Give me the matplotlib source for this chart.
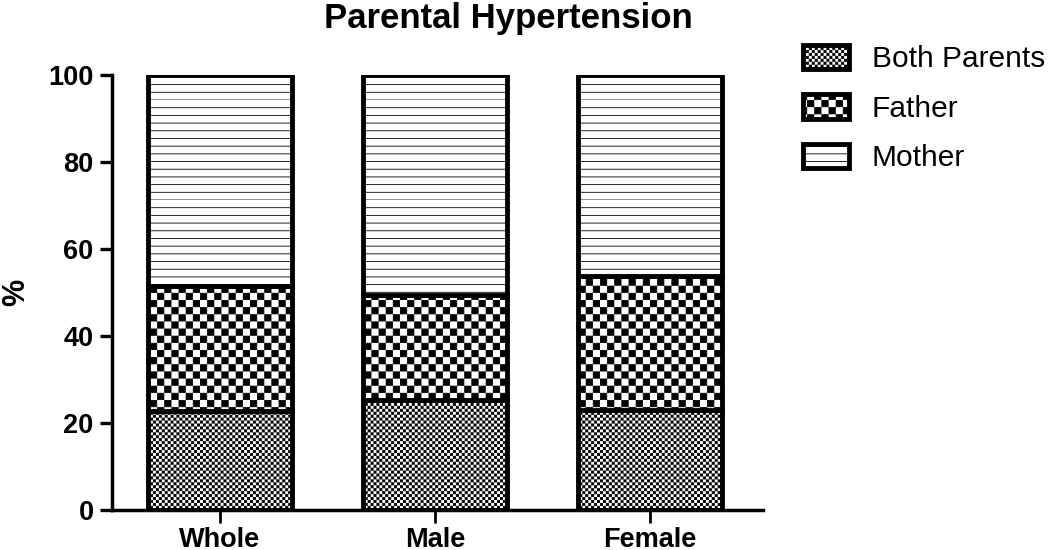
# -*- coding: utf-8 -*-
"""
Output: out.png
Parental hypertension, stacked percentage bars
"""

### 0 ### Imports

import warnings
import numpy as np
import matplotlib
matplotlib.use("Agg")
import matplotlib.pyplot as plt
import matplotlib.hatch as mhatch
from matplotlib.path import Path

warnings.filterwarnings("ignore")

# fonts and general look
plt.rcParams['font.family'] = ['Liberation Sans', 'DejaVu Sans']
plt.rcParams['hatch.linewidth'] = 0.6
plt.rcParams['hatch.color'] = 'black'

# data
groups = ["Whole", "Male", "Female"]
series = ["Both Parents", "Father", "Mother"]
both = [22.8, 25.2, 22.9]
father = [28.7, 24.2, 30.9]
mother = [48.5, 50.6, 46.2]


### 1 ### Custom hatches (checkerboards and denser lines)

class CheckerHatch(mhatch.HatchPatternBase):
    # 'c' = coarse checkerboard, 'k' = fine checkerboard (cells per inch)
    sizes = {'c': 14, 'k': 34}

    def __init__(self, hatch, density):
        self.n = 0
        for ch, n in self.sizes.items():
            if ch in hatch:
                self.n = n
        self.num_vertices = (self.n * self.n // 2) * 5

    def set_vertices_and_codes(self, vertices, codes):
        step = 1.0 / self.n
        g = 0.004
        k = 0
        for i in range(self.n):
            for j in range(self.n):
                if (i + j) % 2:
                    continue
                x0, y0 = i * step + g, j * step + g
                x1, y1 = (i + 1) * step - g, (j + 1) * step - g
                vertices[k:k + 5] = [(x0, y0), (x1, y0), (x1, y1), (x0, y1), (x0, y0)]
                codes[k:k + 5] = [Path.MOVETO, Path.LINETO, Path.LINETO,
                                  Path.LINETO, Path.CLOSEPOLY]
                k += 5


class LineHatch(mhatch.HatchPatternBase):
    # 'h' = horizontal lines, 13 per inch
    def __init__(self, hatch, density):
        self.n = 13 if 'h' in hatch else 0
        self.num_vertices = self.n * 2

    def set_vertices_and_codes(self, vertices, codes):
        ys = np.arange(self.n) / self.n
        vertices[0::2, 0] = 0.0
        vertices[1::2, 0] = 1.0
        vertices[0::2, 1] = ys
        vertices[1::2, 1] = ys
        codes[0::2] = Path.MOVETO
        codes[1::2] = Path.LINETO

mhatch._hatch_types.append(CheckerHatch)
mhatch._hatch_types.append(LineHatch)


### 2 ### Create the chart

fig = plt.figure(figsize=(10.5, 5.5), dpi=100)
ax = fig.add_axes([112/1050, 1-510/550, 651/1050, 435/550])

x = np.arange(len(groups))
w = 0.67
bar_kw = dict(width=w, color='white', edgecolor='black', linewidth=3.5)

b1 = ax.bar(x, both, hatch='k', label=series[0], **bar_kw)
b2 = ax.bar(x, father, bottom=both, hatch='c', label=series[1], **bar_kw)
b3 = ax.bar(x, mother, bottom=np.add(both, father), hatch='h',
            label=series[2], **bar_kw)

# axes
ax.set_xlim(-0.5, 2.525)
ax.set_ylim(0, 100)
ax.set_yticks([0, 20, 40, 60, 80, 100])
ax.set_xticks(x)
ax.set_xticklabels(groups)
for sp in ['top', 'right']:
    ax.spines[sp].set_visible(False)
for sp in ['left', 'bottom']:
    ax.spines[sp].set_linewidth(2.5)
ax.tick_params(axis='y', length=9, width=2.4, pad=4.3, labelsize=19.5)
ax.tick_params(axis='x', length=9, width=2.0, pad=3.0, labelsize=19.5)
for lab in ax.get_xticklabels() + ax.get_yticklabels():
    lab.set_fontweight('bold')

# labels
fig.text(508/1050, 1-28/550, "Parental Hypertension", ha='center',
         va='baseline', fontsize=25, fontweight='bold')
fig.text(16/1050, 1-292/550, "%", rotation=90, ha='center', va='center',
         fontsize=22, fontweight='bold')

# legend
ax.legend(loc='upper left', bbox_to_anchor=(803/1050, 1-45/550),
          bbox_transform=fig.transFigure, frameon=False, fontsize=21.5,
          handlelength=1.54, handleheight=0.87, handletextpad=0.77,
          labelspacing=0.7, borderpad=0, borderaxespad=0)


### 3 ### Export

fig.savefig('out.png', dpi=100)
